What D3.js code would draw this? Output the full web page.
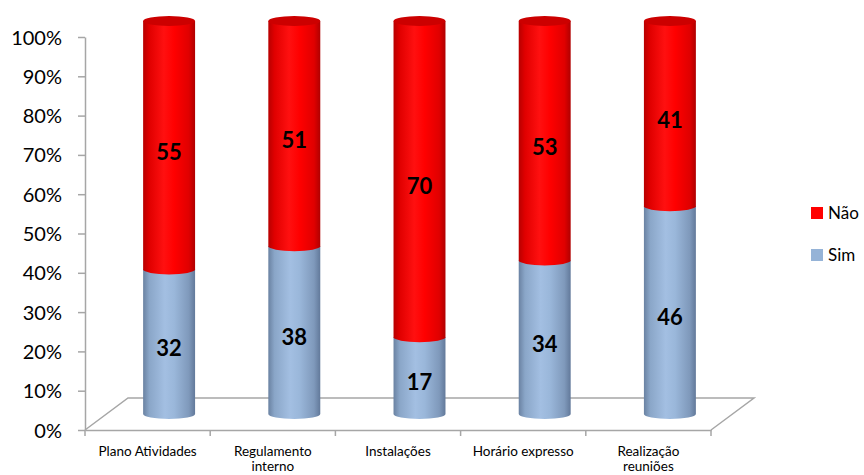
<!DOCTYPE html>
<html><head><meta charset="utf-8">
<script src="https://cdn.jsdelivr.net/npm/d3@7"></script>
<style>body{margin:0;background:#fff}svg{display:block}</style>
</head><body><svg id="c" width="864" height="475"></svg>
<script>
const categories = ["Plano Atividades", "Regulamento interno", "Instalações", "Horário expresso", "Realização reuniões"];
const categoryLines = [["Plano Atividades"], ["Regulamento", "interno"], ["Instalações"], ["Horário expresso"], ["Realização", "reuniões"]];
const simValues = [32, 38, 17, 34, 46];
const naoValues = [55, 51, 70, 53, 41];
const yTicks = [0, 0.1, 0.2, 0.3, 0.4, 0.5, 0.6, 0.7, 0.8, 0.9, 1];
const seriesNames = ["Não", "Sim"];

const svg = d3.select("#c");
const font = "Lato, 'Open Sans', sans-serif";
const x = d3.scaleBand().domain(categories).range([85, 711]);
const y = d3.scaleLinear().domain([0, 1]).range([430, 37]);
const depthX = 43, depthY = 32;
const yb = v => y(v) - depthY / 2;
const barW = x.bandwidth() * 0.415;
const ry = 5;

const defs = svg.append("defs");
function grad(id, stops) {
  const g = defs.append("linearGradient").attr("id", id).attr("x1", "0").attr("x2", "1").attr("y1", "0").attr("y2", "0");
  stops.forEach(s => g.append("stop").attr("offset", s[0]).attr("stop-color", s[1]));
}
grad("gRed", [[0, "#b80000"], [0.12, "#e00000"], [0.4, "#ff1010"], [0.6, "#ff0000"], [0.88, "#e00000"], [1, "#b00000"]]);
grad("gBlue", [[0, "#6a82a2"], [0.12, "#8aa6c8"], [0.42, "#a3bfe2"], [0.6, "#9ab7da"], [0.88, "#7f99bb"], [1, "#62799a"]]);

// floor
const x0 = x.range()[0], x1 = x.range()[1], y0 = y(0);
svg.append("path")
  .attr("d", `M${x0},${y0}L${x0 + depthX},${y0 - depthY}L${x1 + depthX},${y0 - depthY}L${x1},${y0}`)
  .attr("fill", "none").attr("stroke", "#a6a6a6").attr("stroke-width", 1.5);

// y axis
const yAxis = svg.append("g").attr("transform", `translate(${x0},0)`)
  .call(d3.axisLeft(y).tickValues(yTicks).tickFormat(d3.format(".0%")).tickSize(7).tickSizeOuter(0));
yAxis.select(".domain").attr("stroke", "#a6a6a6").attr("stroke-width", 1.5);
yAxis.selectAll(".tick line").attr("stroke", "#a6a6a6").attr("stroke-width", 1.5);
yAxis.selectAll("text").attr("font-family", font).attr("font-size", 20).attr("fill", "#000").attr("x", -23).attr("dy", "0.35em");

// x axis
const xAxis = svg.append("g").attr("transform", `translate(0,${y0})`)
  .call(d3.axisBottom(x).tickSize(0).tickFormat(""));
xAxis.select(".domain").attr("stroke", "#a6a6a6").attr("stroke-width", 1.5);
const tickXs = categories.map(c => x(c)).concat([x1]);
xAxis.selectAll(".tk").data(tickXs).join("line").attr("class", "tk")
  .attr("x1", d => d).attr("x2", d => d).attr("y1", 0).attr("y2", 6)
  .attr("stroke", "#a6a6a6").attr("stroke-width", 1.5);
const labs = svg.append("g");
categories.forEach((c, i) => {
  const t = labs.append("text").attr("x", x(c) + x.bandwidth() / 2).attr("y", y0 + 26)
    .attr("text-anchor", "middle").attr("font-family", font).attr("font-size", 13.5).attr("fill", "#000");
  categoryLines[i].forEach((l, j) => t.append("tspan").attr("x", x(c) + x.bandwidth() / 2).attr("dy", j ? 15 : 0).text(l));
});

// bars
const bars = svg.append("g");
categories.forEach((c, i) => {
  const tot = simValues[i] + naoValues[i];
  const s = simValues[i] / tot;
  const cx = x(c) + x.bandwidth() / 2 + depthX / 2;
  const l = cx - barW / 2, r = cx + barW / 2, rx = barW / 2;
  const seg = (v0, v1, fill) => {
    const yt = yb(v1), ybo = yb(v0);
    bars.append("path")
      .attr("d", `M${l},${yt}L${l},${ybo}A${rx},${ry} 0 0 0 ${r},${ybo}L${r},${yt}Z`)
      .attr("fill", fill);
  };
  seg(0, s, "url(#gBlue)");
  seg(s, 1, "url(#gRed)");
  bars.append("ellipse").attr("cx", cx).attr("cy", yb(1)).attr("rx", rx).attr("ry", ry).attr("fill", "#cc0000");
  bars.append("text").attr("x", cx).attr("y", (yb(0) + yb(s)) / 2 + 7).attr("dy", "0.35em")
    .attr("text-anchor", "middle").attr("font-family", font).attr("font-weight", "bold").attr("font-size", 22).text(simValues[i]);
  bars.append("text").attr("x", cx).attr("y", (yb(s) + yb(1)) / 2 + 7).attr("dy", "0.35em")
    .attr("text-anchor", "middle").attr("font-family", font).attr("font-weight", "bold").attr("font-size", 22).text(naoValues[i]);
});

// legend
const legColors = {"Não": "#ff0000", "Sim": "#95b3d7"};
const leg = svg.append("g");
seriesNames.forEach((n, i) => {
  const yy = 213 + i * 42;
  leg.append("rect").attr("x", 811).attr("y", yy - 6).attr("width", 12).attr("height", 12).attr("fill", legColors[n]);
  leg.append("text").attr("x", 828).attr("y", yy).attr("dy", "0.35em").attr("font-family", font).attr("font-size", 17).text(n);
});
</script></body></html>
